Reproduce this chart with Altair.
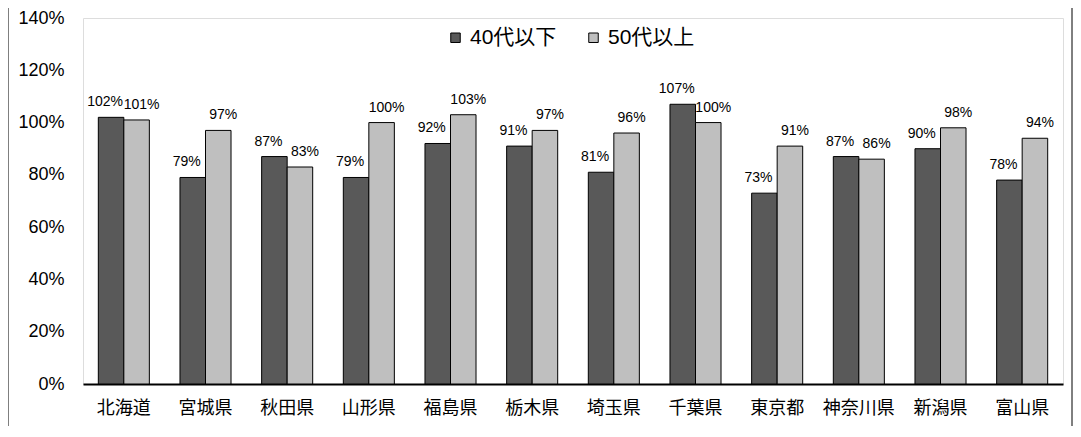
import altair as alt
import pandas as pd

prefs = ["北海道", "宮城県", "秋田県", "山形県", "福島県", "栃木県", "埼玉県",
         "千葉県", "東京都", "神奈川県", "新潟県", "富山県"]
under40 = [1.02, 0.79, 0.87, 0.79, 0.92, 0.91, 0.81, 1.07, 0.73, 0.87, 0.90, 0.78]
over50 = [1.01, 0.97, 0.83, 1.00, 1.03, 0.97, 0.96, 1.00, 0.91, 0.86, 0.98, 0.94]
series = ["40代以下", "50代以上"]
colors = ["#595959", "#bfbfbf"]

rows = []
for p, a, b in zip(prefs, under40, over50):
    rows.append({"pref": p, "series": series[0], "value": a})
    rows.append({"pref": p, "series": series[1], "value": b})
df = pd.DataFrame(rows)

FONT = "Liberation Sans, Noto Sans CJK JP"
JP = "Noto Sans CJK JP"

x = alt.X("pref:N", sort=prefs, title=None,
          scale=alt.Scale(paddingInner=0.375, paddingOuter=0.1875),
          axis=alt.Axis(labelAngle=0, labelFont=JP, labelFontSize=18, labelColor="black",
                        labelPadding=15, ticks=False, domainColor="black", domainWidth=2))
xo = alt.XOffset("series:N", sort=series)
y = alt.Y("value:Q", title=None,
          scale=alt.Scale(domain=[0, 1.4], nice=False),
          axis=alt.Axis(format=".0%", values=[0, 0.2, 0.4, 0.6, 0.8, 1.0, 1.2, 1.4],
                        grid=False, ticks=False, domain=False, labelFont=FONT,
                        labelFontSize=18, labelColor="black", labelPadding=19))

base = alt.Chart(df)

bars = base.mark_bar(stroke="black", strokeWidth=1).encode(
    x=x, xOffset=xo, y=y,
    color=alt.Color("series:N", sort=series,
                    scale=alt.Scale(domain=series, range=colors),
                    legend=alt.Legend(orient="none", legendX=362, legendY=9,
                                      direction="horizontal", title=None,
                                      symbolType="square", symbolSize=90,
                                      symbolStrokeColor="black", symbolStrokeWidth=1,
                                      labelFont=FONT, labelFontSize=21, labelColor="black",
                                      labelOffset=4, columnPadding=26, padding=0)),
)

lab_dark = base.transform_filter(alt.datum.series == series[0]).mark_text(
    font=FONT, fontSize=14, color="black", baseline="middle", dy=-15, dx=-6
).encode(x=x, xOffset=xo, y=y, text=alt.Text("value:Q", format=".0%"))

lab_light = base.transform_filter(alt.datum.series == series[1]).mark_text(
    font=FONT, fontSize=14, color="black", baseline="middle", dy=-15, dx=5
).encode(x=x, xOffset=xo, y=y, text=alt.Text("value:Q", format=".0%"))

frame_l = alt.Chart(pd.DataFrame({"k": [0]})).mark_rule(color="black", strokeWidth=1).encode(
    x=alt.value(-75), y=alt.value(-20), y2=alt.value(430))
frame_r = alt.Chart(pd.DataFrame({"k": [0]})).mark_rule(color="black", strokeWidth=1).encode(
    x=alt.value(989), y=alt.value(-20), y2=alt.value(430))

chart = alt.layer(bars, lab_dark, lab_light, frame_l, frame_r).properties(
    width=980, height=366,
    autosize=alt.AutoSizeParams(type="none"),
    padding={"left": 75, "top": 10, "right": 10, "bottom": 42},
).configure_view(stroke="#808080", strokeWidth=1.5).configure(background="white")

chart.save("out.html", embed_options={"renderer": "svg", "actions": False})
